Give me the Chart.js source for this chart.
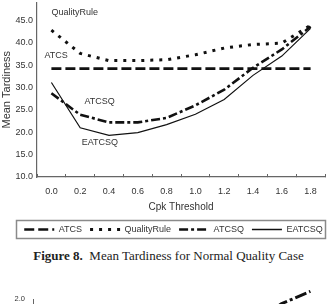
<!DOCTYPE html>
<html><head><meta charset="utf-8">
<script src="https://cdn.jsdelivr.net/npm/chart.js@4/dist/chart.umd.min.js"></script>
<style>
html,body{margin:0;padding:0;background:#fff;width:331px;height:304px;overflow:hidden;}
#wrap{position:relative;width:331px;height:304px;overflow:hidden;}
#c1{position:absolute;left:0;top:-7px;}
#cap{position:absolute;left:3px;width:331px;top:248px;text-align:center;font-family:"Liberation Serif","Times New Roman",serif;font-size:13px;color:#222;line-height:16px;white-space:nowrap;}
#c2{position:absolute;left:0;top:280px;}
</style></head><body>
<div id="wrap">
<canvas id="c1" width="331" height="251"></canvas>
<div id="cap"><b>Figure 8.</b>&nbsp; Mean Tardiness for Normal Quality Case</div>
<canvas id="c2" width="331" height="140"></canvas>
</div>
<script>
const categories = ['0.0','0.2','0.4','0.6','0.8','1.0','1.2','1.4','1.6','1.8'];
const atcs        = [34.2, 34.2, 34.2, 34.2, 34.2, 34.2, 34.2, 34.2, 34.2, 34.2];
const qualityRule = [42.8, 37.6, 36.0, 36.0, 36.2, 37.3, 38.8, 39.6, 39.9, 43.9];
const atcsq       = [28.7, 23.9, 22.2, 22.2, 23.2, 26.0, 29.5, 34.4, 38.5, 43.6];
const eatcsq      = [31.1, 21.0, 19.3, 19.9, 21.7, 24.0, 27.3, 32.7, 37.0, 43.2];
const seriesNames = ['ATCS', 'QualityRule', 'ATCSQ', 'EATCSQ'];
const yMin = 10, yMax = 49, yStep = 5;
const xTitle = 'Cpk Threshold';
const yTitle = 'Mean Tardiness';
const lineLabels = ['QualityRule', 'ATCS', 'ATCSQ', 'EATCSQ'];
const lineLabelX = [0.0, -0.24, 1.15, 1.05];
const lineLabelY = [46.7, 37.2, 26.9, 17.8];

// partial next figure (cut off at the bottom of the page)
const nextCategories = categories;
const nextSeries = [0.2, 0.3, 0.4, 0.5, 0.6, 0.8, 1.0, 1.5, 1.91, 2.14];
const nextYMax = 2.0;

const FONT = '"Liberation Sans", Arial, sans-serif';
const INK = '#111';
const TXT = '#333';
const AX = '#666';

const annotationPlugin = {
  id: 'lineLabels',
  afterDatasetsDraw(chart) {
    const ctx = chart.ctx, xs = chart.scales.x, ys = chart.scales.y;
    ctx.save();
    ctx.font = '9px ' + FONT;
    ctx.fillStyle = TXT;
    ctx.textAlign = 'left';
    ctx.textBaseline = 'middle';
    lineLabels.forEach((t, i) => {
      ctx.fillText(t, xs.getPixelForValue(lineLabelX[i]), ys.getPixelForValue(lineLabelY[i]));
    });
    ctx.restore();
  }
};
const legendBoxPlugin = {
  id: 'legendBox',
  afterLayout(chart) {
    if (chart.legend) { chart.legend.left += 11; chart.legend.right += 11; }
  },
  afterDraw(chart) {
    const hb = chart.legend && chart.legend.legendHitBoxes;
    if (!hb || !hb.length) return;
    let minX = Infinity, maxX = -Infinity, top = Infinity, bot = -Infinity;
    hb.forEach(h => { minX = Math.min(minX, h.left); maxX = Math.max(maxX, h.left + h.width); top = Math.min(top, h.top); bot = Math.max(bot, h.top + h.height); });
    const ctx = chart.ctx;
    ctx.save();
    ctx.strokeStyle = '#8a8a8a';
    ctx.lineWidth = 1.5;
    ctx.strokeRect(Math.round(minX - 8) + 0.5, Math.round(top - 5) + 0.5, Math.round(maxX - minX + 10), Math.round(bot - top + 9));
    ctx.restore();
  }
};

const common = { pointRadius: 0, fill: false, tension: 0, borderColor: INK, backgroundColor: INK, borderCapStyle: 'butt', borderJoinStyle: 'miter' };

new Chart(document.getElementById('c1'), {
  type: 'line',
  data: {
    labels: categories,
    datasets: [
      Object.assign({ label: seriesNames[0], data: atcs, borderWidth: 2.6, borderDash: [10, 4] }, common),
      Object.assign({ label: seriesNames[1], data: qualityRule, borderWidth: 3, borderDash: [3, 6] }, common),
      Object.assign({ label: seriesNames[2], data: atcsq, borderWidth: 2.6, borderDash: [9, 3, 3, 3] }, common),
      Object.assign({ label: seriesNames[3], data: eatcsq, borderWidth: 1.2 }, common)
    ]
  },
  options: {
    responsive: false,
    animation: false,
    devicePixelRatio: 1,
    layout: { padding: { left: 0, right: 6, top: 0, bottom: 0 } },
    plugins: {
      tooltip: { enabled: false },
      legend: {
        position: 'bottom',
        labels: {
          usePointStyle: true, pointStyle: 'line', pointStyleWidth: 30,
          padding: 8, color: TXT, font: { size: 9, family: FONT },
          generateLabels(chart) {
            const items = Chart.defaults.plugins.legend.labels.generateLabels(chart);
            items.forEach(it => {
              const ds = chart.data.datasets[it.datasetIndex];
              it.lineDash = ds.borderDash || [];
              it.lineWidth = Math.max(ds.borderWidth, 1.5);
              it.strokeStyle = ds.borderColor;
              it.fillStyle = ds.borderColor;
              it.pointStyle = 'line';
              it.lineCap = 'butt';
            });
            return items;
          }
        }
      }
    },
    scales: {
      x: {
        type: 'category',
        offset: true,
        grid: { display: true, drawOnChartArea: false, drawTicks: true, tickLength: -3, offset: true, color: AX, lineWidth: 1 },
        border: { display: true, color: AX, width: 1.2 },
        ticks: { color: TXT, font: { size: 9, family: FONT }, padding: 12, maxRotation: 0, autoSkip: false },
        title: { display: true, text: xTitle, color: TXT, font: { size: 10, family: FONT }, padding: { top: 4, bottom: 4 } },
        afterFit: s => { s.height = 40; }
      },
      y: {
        min: yMin, max: yMax,
        grid: { display: false, drawTicks: false },
        border: { display: true, color: AX, width: 1.2 },
        ticks: { stepSize: yStep, padding: 4, color: TXT, font: { size: 9, family: FONT },
                 callback: v => (v % yStep === 0 ? v.toFixed(1) : null) },
        title: { display: true, text: yTitle, color: TXT, font: { size: 11, family: FONT }, padding: 0 },
        afterFit: s => { s.width = 37; }
      }
    }
  },
  plugins: [annotationPlugin, legendBoxPlugin]
});

new Chart(document.getElementById('c2'), {
  type: 'line',
  data: {
    labels: nextCategories,
    datasets: [ Object.assign({ label: 'next', data: nextSeries, borderWidth: 3, borderDash: [12, 3, 3, 3], clip: false }, common) ]
  },
  options: {
    responsive: false, animation: false, devicePixelRatio: 1,
    layout: { padding: { left: 0, right: 6, top: 19, bottom: 0 } },
    plugins: { legend: { display: false }, tooltip: { enabled: false } },
    scales: {
      x: { display: false, offset: true },
      y: {
        min: 0, max: nextYMax,
        grid: { display: false, drawTicks: false },
        border: { display: true, color: AX, width: 1 },
        ticks: { stepSize: 0.5, padding: 8, color: TXT, font: { size: 7.5, family: FONT }, callback: v => v.toFixed(1) },
        afterFit: s => { s.width = 33; }
      }
    }
  }
});
</script>
</body></html>
